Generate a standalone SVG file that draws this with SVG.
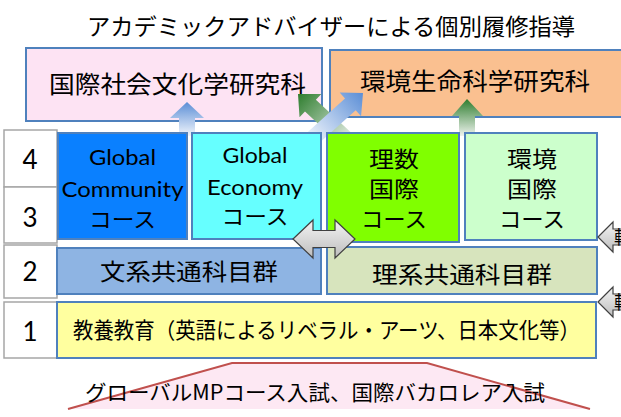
<svg xmlns="http://www.w3.org/2000/svg" width="621" height="417" viewBox="0 0 621 417">
<style>
.jp{font-family:"Noto Sans CJK JP","Noto Sans",sans-serif;fill:#000}
.lat{font-family:"Lato","Noto Sans CJK JP",sans-serif;fill:#000}
.box{stroke:#4f81bd;stroke-width:2}
.yr{fill:#fff;stroke:#a6a6a6;stroke-width:1.5}
.gray{fill:url(#gGray);stroke:#404040;stroke-width:1.2}
</style>
<defs>
<linearGradient id="gBlueV" x1="0" y1="0" x2="0" y2="1">
<stop offset="0" stop-color="#5b8ed6"/><stop offset="1" stop-color="#f2f6fc"/>
</linearGradient>
<linearGradient id="gGreenV" x1="0" y1="0" x2="0" y2="1">
<stop offset="0" stop-color="#2e7d2e"/><stop offset="1" stop-color="#eef3ee"/>
</linearGradient>
<linearGradient id="gBlueH" x1="1" y1="0" x2="0" y2="0">
<stop offset="0" stop-color="#5b8ed6"/><stop offset="1" stop-color="#f2f6fc"/>
</linearGradient>
<linearGradient id="gGreenH" x1="1" y1="0" x2="0" y2="0">
<stop offset="0" stop-color="#2e7d2e"/><stop offset="1" stop-color="#eef3ee"/>
</linearGradient>
<linearGradient id="gGray" x1="0" y1="0" x2="0" y2="1">
<stop offset="0" stop-color="#f4f4f4"/><stop offset="1" stop-color="#bdbdbd"/>
</linearGradient>
</defs>

<text class="jp" x="331" y="34.5" font-size="23" text-anchor="middle" textLength="488" lengthAdjust="spacingAndGlyphs">アカデミックアドバイザーによる個別履修指導</text>

<g id="grad-intl">
<rect class="box" x="26" y="48" width="296" height="73" fill="#fde3f3"/>
<text class="jp" x="177.5" y="93" font-size="24" text-anchor="middle" textLength="257" lengthAdjust="spacingAndGlyphs">国際社会文化学研究科</text>
</g>
<g id="grad-env">
<rect class="box" x="330" y="50" width="300" height="67" fill="#fac090"/>
<text class="jp" x="475" y="90" font-size="24" text-anchor="middle" textLength="230" lengthAdjust="spacingAndGlyphs">環境生命科学研究科</text>
</g>

<g id="connectors">
<polygon points="187,102 204,118 195,118 195,136 179,136 179,118 170,118" fill="url(#gBlueV)"/>
<polygon points="467,99 483,116 475,116 475,136 459,136 459,116 452,116" fill="url(#gGreenV)"/>
<g transform="translate(298,94) rotate(223)">
<polygon points="0,0 -17,-16 -17,-8 -72,-8 -72,8 -17,8 -17,16" fill="url(#gGreenH)"/>
</g>
<g transform="translate(363,93) rotate(-42)">
<polygon points="0,0 -17,-16 -17,-8 -72,-8 -72,8 -17,8 -17,16" fill="url(#gBlueH)"/>
</g>
</g>

<g id="years">
<g id="y4"><rect class="yr" x="4" y="130" width="53" height="57"/><text class="lat" x="30" y="169" font-size="26" text-anchor="middle">4</text></g>
<g id="y3"><rect class="yr" x="4" y="187" width="53" height="56"/><text class="lat" x="30" y="227" font-size="26" text-anchor="middle">3</text></g>
<g id="y2"><rect class="yr" x="4" y="245" width="53" height="53"/><text class="lat" x="30" y="281" font-size="26" text-anchor="middle">2</text></g>
<g id="y1"><rect class="yr" x="4" y="302" width="53" height="56"/><text class="lat" x="30" y="341" font-size="26" text-anchor="middle">1</text></g>
</g>

<g id="gc">
<rect class="box" x="58" y="133" width="129" height="106" fill="#0a80ff"/>
<text class="lat" x="122.5" y="165" font-size="22" text-anchor="middle" textLength="67" lengthAdjust="spacingAndGlyphs">Global</text>
<text class="lat" x="122.5" y="197" font-size="22" text-anchor="middle" textLength="122" lengthAdjust="spacingAndGlyphs">Community</text>
<text class="jp" x="122.5" y="227" font-size="21" text-anchor="middle" textLength="67" lengthAdjust="spacingAndGlyphs">コース</text>
</g>
<g id="ge">
<rect class="box" x="192" y="133" width="129" height="106" fill="#66ffff"/>
<text class="lat" x="255" y="163" font-size="22" text-anchor="middle" textLength="65" lengthAdjust="spacingAndGlyphs">Global</text>
<text class="lat" x="255" y="195" font-size="22" text-anchor="middle" textLength="96" lengthAdjust="spacingAndGlyphs">Economy</text>
<text class="jp" x="255" y="224" font-size="21" text-anchor="middle" textLength="67" lengthAdjust="spacingAndGlyphs">コース</text>
</g>
<g id="ri">
<rect class="box" x="327" y="133" width="132" height="109" fill="#80ff00"/>
<text class="jp" x="394" y="167" font-size="22" text-anchor="middle" textLength="50" lengthAdjust="spacingAndGlyphs">理数</text>
<text class="jp" x="394" y="197" font-size="22" text-anchor="middle" textLength="50" lengthAdjust="spacingAndGlyphs">国際</text>
<text class="jp" x="394" y="227" font-size="22" text-anchor="middle" textLength="66" lengthAdjust="spacingAndGlyphs">コース</text>
</g>
<g id="ki">
<rect class="box" x="465" y="133" width="132" height="107" fill="#ccffcc"/>
<text class="jp" x="532" y="167" font-size="22" text-anchor="middle" textLength="50" lengthAdjust="spacingAndGlyphs">環境</text>
<text class="jp" x="532" y="197" font-size="22" text-anchor="middle" textLength="50" lengthAdjust="spacingAndGlyphs">国際</text>
<text class="jp" x="532" y="227" font-size="22" text-anchor="middle" textLength="66" lengthAdjust="spacingAndGlyphs">コース</text>
</g>
<g id="bunkei">
<rect class="box" x="57" y="248" width="264" height="46" fill="#8eb4e3"/>
<text class="jp" x="189" y="280" font-size="23" text-anchor="middle" textLength="178" lengthAdjust="spacingAndGlyphs">文系共通科目群</text>
</g>
<g id="rikei">
<rect class="box" x="327" y="247" width="270" height="47" fill="#d7e4bd"/>
<text class="jp" x="462" y="283" font-size="23" text-anchor="middle" textLength="180" lengthAdjust="spacingAndGlyphs">理系共通科目群</text>
</g>
<g id="kyoyo">
<rect class="box" x="57" y="302" width="539" height="56" fill="#ffff9f"/>
<text class="jp" x="73" y="338" font-size="22" textLength="507" lengthAdjust="spacingAndGlyphs">教養教育（英語によるリベラル・アーツ、日本文化等）</text>
</g>

<g id="exchange">
<polygon class="gray" points="293,239 313,220 313,230.5 335,230.5 335,220 355,239 335,258 335,247.5 313,247.5 313,258"/>
</g>
<g id="side1">
<polygon class="gray" points="598,237 613,222 613,229 640,229 640,245 613,245 613,252"/>
<text class="jp" x="614" y="244" font-size="18">転</text>
</g>
<g id="side2">
<polygon class="gray" points="598,302 613,287 613,294 640,294 640,310 613,310 613,317"/>
<text class="jp" x="614" y="309" font-size="18">転</text>
</g>

<g id="admission">
<polygon points="68,409 232,363 427,363 590,409" fill="#fde8f3"/>
<polyline points="68,409 232,363 427,363 590,409" fill="none" stroke="#c0504d" stroke-width="2"/>
<text class="jp" x="85" y="400" font-size="21" textLength="460" lengthAdjust="spacingAndGlyphs">グローバルMPコース入試、国際バカロレア入試</text>
</g>
</svg>
